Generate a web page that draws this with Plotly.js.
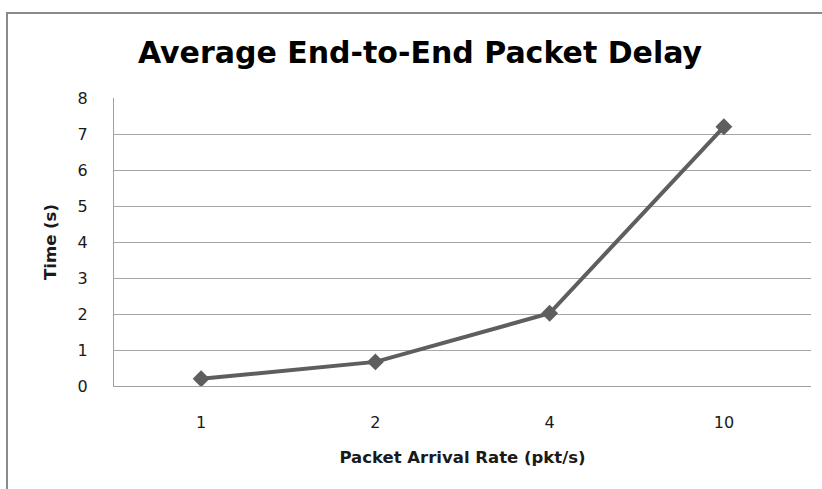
<!DOCTYPE html>
<html>
<head>
<meta charset="utf-8">
<script src="https://cdn.plot.ly/plotly-3.0.1.min.js"></script>
<style>
  html, body { margin: 0; padding: 0; background: #ffffff; }
  #chart { width: 822px; height: 489px; }
</style>
</head>
<body>
<div id="chart"></div>
<script>
// Packet arrival rates (categorical x) and measured average delay in seconds
const arrivalRates = ['1', '2', '4', '10'];
const delaySeconds = [0.2, 0.67, 2.02, 7.2];
const yTickValues = [0, 1, 2, 3, 4, 5, 6, 7, 8];

const W = 822, H = 489;
const margin = { l: 114, r: 11, t: 98, b: 103, pad: 0 };
const plotW = W - margin.l - margin.r;
const plotH = H - margin.t - margin.b;

// outer chart frame (left and top edges), expressed in paper coordinates
const px = x => (x - margin.l) / plotW;
const py = y => (H - margin.b - y) / plotH;
const frameColor = '#8a8a8a';

const trace = {
  x: arrivalRates,
  y: delaySeconds,
  type: 'scatter',
  mode: 'lines+markers',
  line: { color: '#5e5e5e', width: 4 },
  marker: { symbol: 'diamond', size: 13, color: '#5e5e5e' },
  hoverinfo: 'x+y'
};

const family = '"DejaVu Sans", "Open Sans", sans-serif';
const tickFont = { family: family, size: 16, color: '#1a1a1a' };
const axisTitleFont = { family: family, size: 16.5, color: '#1a1a1a' };

const layout = {
  width: W,
  height: H,
  margin: margin,
  paper_bgcolor: '#ffffff',
  plot_bgcolor: '#ffffff',
  showlegend: false,
  title: {
    text: '<b>Average End-to-End Packet Delay</b>',
    font: { family: family, size: 30, color: '#000000' },
    x: 420 / W,
    xanchor: 'center',
    xref: 'container',
    y: 1 - 52 / H,
    yanchor: 'middle',
    yref: 'container'
  },
  xaxis: {
    type: 'category',
    range: [-0.5, 3.5],
    showgrid: false,
    showline: true,
    linecolor: '#a0a0a0',
    linewidth: 1,
    ticks: '',
    tickfont: tickFont,
    ticklabelstandoff: 22,
    title: {
      text: '<b>Packet Arrival Rate (pkt/s)</b>',
      font: axisTitleFont,
      standoff: 20
    },
    fixedrange: true
  },
  yaxis: {
    range: [0, 8],
    tickvals: yTickValues,
    showgrid: true,
    gridcolor: '#a6a6a6',
    gridwidth: 1,
    zeroline: false,
    showline: true,
    linecolor: '#a0a0a0',
    linewidth: 1,
    ticks: '',
    tickfont: tickFont,
    ticklabelstandoff: 22,
    title: {
      text: '<b>Time (s)</b>',
      font: axisTitleFont,
      standoff: 16
    },
    fixedrange: true
  },
  shapes: [
    { type: 'line', xref: 'paper', yref: 'paper', x0: px(7), x1: px(7), y0: py(12), y1: py(H + 2),
      line: { color: frameColor, width: 2 } },
    { type: 'line', xref: 'paper', yref: 'paper', x0: px(6), x1: px(W + 2), y0: py(13), y1: py(13),
      line: { color: frameColor, width: 2 } }
  ]
};

Plotly.newPlot('chart', [trace], layout, { displayModeBar: false, staticPlot: true });
</script>
</body>
</html>
